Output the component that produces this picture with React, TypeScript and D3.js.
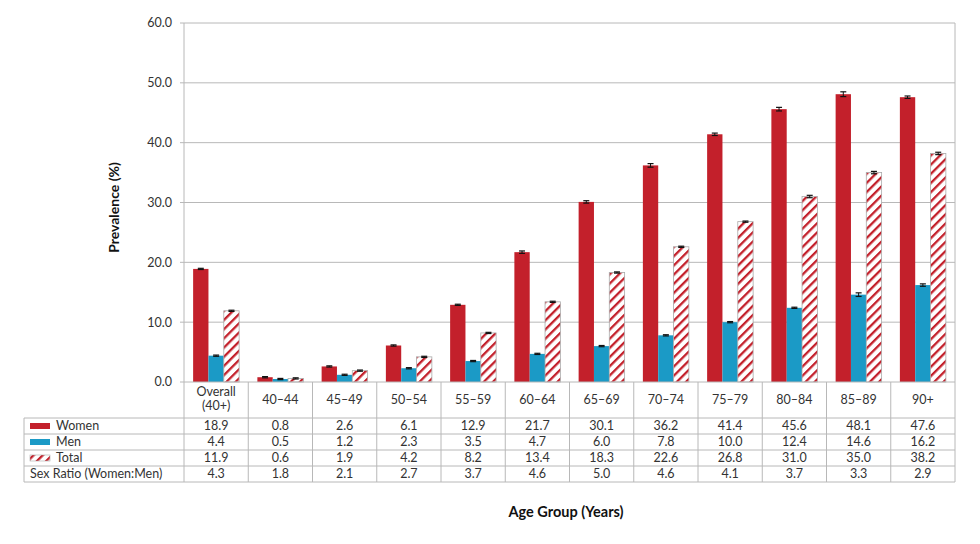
import * as d3 from 'd3'

const categories = ['Overall (40+)', '40–44', '45–49', '50–54', '55–59', '60–64', '65–69', '70–74', '75–79', '80–84', '85–89', '90+']
const women = [18.9, 0.8, 2.6, 6.1, 12.9, 21.7, 30.1, 36.2, 41.4, 45.6, 48.1, 47.6]
const men = [4.4, 0.5, 1.2, 2.3, 3.5, 4.7, 6.0, 7.8, 10.0, 12.4, 14.6, 16.2]
const total = [11.9, 0.6, 1.9, 4.2, 8.2, 13.4, 18.3, 22.6, 26.8, 31.0, 35.0, 38.2]
const sexRatio = [4.3, 1.8, 2.1, 2.7, 3.7, 4.6, 5.0, 4.6, 4.1, 3.7, 3.3, 2.9]
// rough half-widths of the confidence intervals, read off the caps
const womenErr = [0.1, 0.1, 0.1, 0.1, 0.1, 0.2, 0.2, 0.3, 0.2, 0.3, 0.4, 0.2]
const menErr = [0.1, 0.1, 0.1, 0.1, 0.1, 0.1, 0.1, 0.1, 0.1, 0.1, 0.3, 0.2]
const totalErr = [0.1, 0.1, 0.1, 0.1, 0.1, 0.1, 0.1, 0.1, 0.1, 0.2, 0.2, 0.2]
const yTicks = [0, 10, 20, 30, 40, 50, 60]

const RED = '#c3202b'
const BLUE = '#1b9ac6'
const GRID = '#b8b8b8'
const TEXT = '#333'
const FONT = 'Lato, "Noto Sans", sans-serif'

const App = () => {
  const left = 184
  const right = 955
  const top = 23
  const bottom = 382
  const rowH = 16
  const headerBottom = 418
  const tableLeft = 24

  const x = d3.scaleBand<string>().domain(categories).range([left, right])
  const inner = d3
    .scaleBand<string>()
    .domain(['women', 'men', 'total'])
    .range([0, 46])
  const y = d3.scaleLinear().domain([0, 60]).range([bottom, top])
  const fmt = d3.format('.1f')

  const series = [
    { key: 'women', values: women, err: womenErr, fill: RED },
    { key: 'men', values: men, err: menErr, fill: BLUE },
    { key: 'total', values: total, err: totalErr, fill: 'url(#stripes)' },
  ]

  const rows = [
    { label: 'Women', values: women, swatch: RED },
    { label: 'Men', values: men, swatch: BLUE },
    { label: 'Total', values: total, swatch: 'url(#stripes)' },
    { label: 'Sex Ratio (Women:Men)', values: sexRatio, swatch: null },
  ]

  const offset = (x.bandwidth() - 46) / 2

  return (
    <svg width={980} height={544} style={{ position: 'absolute', left: 0, top: 0, background: '#fff' }} fontFamily={FONT}>
      <defs>
        <pattern id="stripes" width={6.5} height={6.5} patternUnits="userSpaceOnUse" patternTransform="rotate(45)">
          <rect width={6.5} height={6.5} fill="#fff" />
          <rect width={2.3} height={6.5} fill={RED} />
        </pattern>
      </defs>

      {/* grid + y axis */}
      {yTicks.map((t) => (
        <g key={t}>
          {t > 0 && <line x1={left} x2={right} y1={y(t)} y2={y(t)} stroke={GRID} strokeWidth={1} />}
          <line x1={left - 4} x2={left} y1={y(t)} y2={y(t)} stroke={GRID} />
          <text x={left - 12} y={y(t)} dy="0.35em" textAnchor="end" fontSize={12.5} fill={TEXT}>
            {fmt(t)}
          </text>
        </g>
      ))}
      <line x1={left} x2={left} y1={top} y2={bottom} stroke={GRID} />
      <line x1={right} x2={right} y1={top} y2={bottom} stroke={GRID} />

      <text
        transform={`translate(119,${(top + bottom) / 2 + 5}) rotate(-90)`}
        textAnchor="middle"
        fontSize={14}
        fontWeight="bold"
        fill="#111"
      >
        Prevalence (%)
      </text>

      {/* bars */}
      {series.map((s) => (
        <g key={s.key}>
          {categories.map((c, i) => {
            const bx = (x(c) as number) + offset + (inner(s.key) as number)
            const bw = inner.bandwidth()
            const cx = bx + bw / 2
            const v = s.values[i]
            const e = s.err[i]
            return (
              <g key={c}>
                <rect
                  x={bx}
                  y={y(v)}
                  width={bw}
                  height={bottom - y(v)}
                  fill={s.fill}
                  stroke={s.key === 'total' ? '#aaa' : 'none'}
                  strokeWidth={0.8}
                />
                <line x1={cx} x2={cx} y1={y(v + e)} y2={y(v - e)} stroke="#111" strokeWidth={1} />
                <line x1={cx - 3} x2={cx + 3} y1={y(v + e)} y2={y(v + e)} stroke="#111" strokeWidth={1.2} />
                <line x1={cx - 3} x2={cx + 3} y1={y(v - e)} y2={y(v - e)} stroke="#111" strokeWidth={1.2} />
              </g>
            )
          })}
        </g>
      ))}

      {/* baseline */}
      <line x1={left} x2={right} y1={bottom} y2={bottom} stroke={GRID} />

      {/* table */}
      <g stroke={GRID} strokeWidth={1}>
        {categories.map((c) => (
          <line key={c} x1={x(c)} x2={x(c)} y1={bottom} y2={headerBottom + rowH * 4} />
        ))}
        <line x1={right} x2={right} y1={bottom} y2={headerBottom + rowH * 4} />
        <line x1={tableLeft} x2={tableLeft} y1={headerBottom} y2={headerBottom + rowH * 4} />
        {[0, 1, 2, 3, 4].map((r) => (
          <line key={r} x1={tableLeft} x2={right} y1={headerBottom + rowH * r} y2={headerBottom + rowH * r} />
        ))}
      </g>

      {categories.map((c) => {
        const cx = (x(c) as number) + x.bandwidth() / 2
        const parts = c === 'Overall (40+)' ? ['Overall', '(40+)'] : [c]
        return (
          <text key={c} x={cx} textAnchor="middle" fontSize={12.5} fill={TEXT}>
            {parts.map((p, k) => (
              <tspan key={p} x={cx} y={parts.length === 1 ? 404 : 396 + k * 14}>
                {p}
              </tspan>
            ))}
          </text>
        )
      })}

      {rows.map((r, ri) => {
        const ry = headerBottom + rowH * ri
        return (
          <g key={r.label}>
            {r.swatch && (
              <rect
                x={30}
                y={ry + 5}
                width={20}
                height={6}
                fill={r.swatch}
                stroke={r.label === 'Total' ? '#aaa' : 'none'}
                strokeWidth={0.6}
              />
            )}
            <text x={r.swatch ? 56 : 30} y={ry + rowH / 2} dy="0.35em" fontSize={12.5} fill={TEXT}>
              {r.label}
            </text>
            {r.values.map((v, i) => (
              <text
                key={i}
                x={(x(categories[i]) as number) + x.bandwidth() / 2}
                y={ry + rowH / 2}
                dy="0.35em"
                textAnchor="middle"
                fontSize={12.5}
                fill={TEXT}
              >
                {fmt(v)}
              </text>
            ))}
          </g>
        )
      })}

      <text x={566} y={517} textAnchor="middle" fontSize={14.5} fontWeight="bold" fill="#111">
        Age Group (Years)
      </text>
    </svg>
  )
}

export default App
